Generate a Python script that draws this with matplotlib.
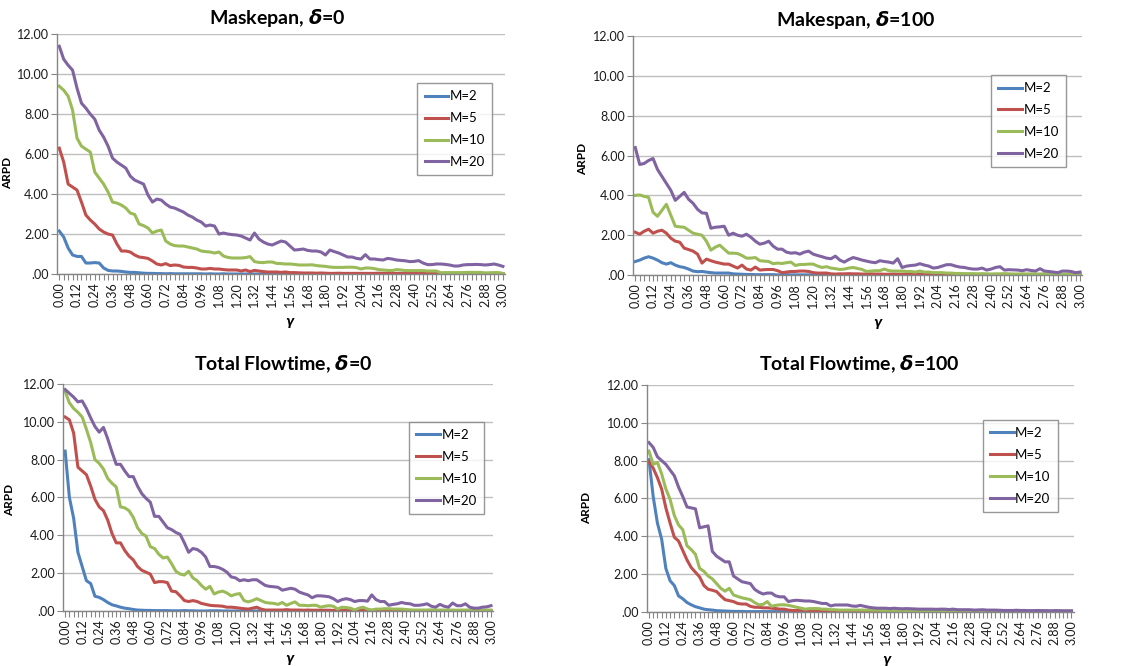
import numpy as np
import matplotlib
matplotlib.use('Agg')
import matplotlib.pyplot as plt

plt.rcParams['font.family'] = ['Lato', 'DejaVu Sans']
plt.rcParams['mathtext.fontset'] = 'dejavusans'

# gamma categories 0.00 .. 3.00, step 0.03
gamma = np.round(np.arange(101) * 0.03, 2)
series_names = ['M=2', 'M=5', 'M=10', 'M=20']
colors = ['#4F81BD', '#C0504D', '#9BBB59', '#8064A2']

# ---- Maskepan, delta=0 ----
ms0_m2 = [2.15, 1.85, 1.3, 0.95, 0.88, 0.88, 0.55, 0.55, 0.57, 0.55,
          0.3, 0.18, 0.15, 0.15, 0.13, 0.1, 0.08, 0.08, 0.06, 0.04,
          0.03, 0.03, 0.02, 0.02, 0.01, 0.02, 0.01, 0.01, 0.01, 0.01,
          0.01, 0.01, 0.01, 0.0, 0.01, 0.0, 0.0, 0.01, 0.0, 0.0,
          0.0, 0.0, 0.0, 0.0, 0.0, 0.0, 0.0, 0.0, 0.0, 0.0,
          0.0, 0.0, 0.0, 0.0, 0.0, 0.0, 0.0, 0.0, 0.0, 0.0,
          0.0, 0.0, 0.0, 0.0, 0.0, 0.0, 0.0, 0.0, 0.0, 0.0,
          0.0, 0.0, 0.0, 0.0, 0.0, 0.0, 0.0, 0.0, 0.0, 0.0,
          0.0, 0.0, 0.0, 0.0, 0.0, 0.0, 0.0, 0.0, 0.0, 0.0,
          0.0, 0.0, 0.0, 0.0, 0.0, 0.0, 0.0, 0.0, 0.0, 0.0, 0.0]
ms0_m5 = [6.3, 5.6, 4.5, 4.35, 4.2, 3.6, 2.95, 2.7, 2.5, 2.25,
          2.1, 2.0, 1.95, 1.5, 1.15, 1.15, 1.1, 0.95, 0.85, 0.82,
          0.78, 0.65, 0.5, 0.45, 0.52, 0.42, 0.45, 0.43, 0.35, 0.33,
          0.33, 0.3, 0.25, 0.25, 0.28, 0.25, 0.25, 0.22, 0.2, 0.2,
          0.2, 0.15, 0.2, 0.12, 0.18, 0.15, 0.12, 0.1, 0.1, 0.1,
          0.08, 0.1, 0.07, 0.07, 0.06, 0.05, 0.05, 0.05, 0.04, 0.05,
          0.04, 0.03, 0.03, 0.04, 0.03, 0.03, 0.03, 0.03, 0.03, 0.03,
          0.03, 0.03, 0.04, 0.03, 0.03, 0.03, 0.03, 0.03, 0.04, 0.05,
          0.05, 0.07, 0.05, 0.03, 0.03, 0.03, 0.03, 0.03, 0.03, 0.03,
          0.03, 0.03, 0.03, 0.03, 0.03, 0.03, 0.03, 0.03, 0.03, 0.03, 0.02]
ms0_m10 = [9.4, 9.2, 8.9, 8.2, 6.8, 6.4, 6.25, 6.1, 5.1, 4.8,
           4.5, 4.1, 3.6, 3.55, 3.45, 3.3, 3.05, 2.98, 2.5, 2.42,
           2.3, 2.05, 2.15, 2.2, 1.65, 1.5, 1.42, 1.4, 1.4, 1.35,
           1.3, 1.25, 1.15, 1.12, 1.1, 1.05, 1.1, 0.9, 0.83, 0.8,
           0.8, 0.8, 0.82, 0.87, 0.62, 0.58, 0.57, 0.6, 0.6, 0.53,
           0.52, 0.5, 0.5, 0.48, 0.45, 0.45, 0.45, 0.46, 0.42, 0.4,
           0.38, 0.35, 0.33, 0.33, 0.33, 0.34, 0.34, 0.32, 0.25, 0.3,
           0.3, 0.27, 0.22, 0.2, 0.18, 0.17, 0.22, 0.2, 0.17, 0.17,
           0.17, 0.17, 0.17, 0.15, 0.15, 0.15, 0.06, 0.07, 0.07, 0.07,
           0.07, 0.07, 0.08, 0.08, 0.08, 0.08, 0.05, 0.06, 0.07, 0.07, 0.03]
ms0_m20 = [11.4, 10.75, 10.45, 10.2, 9.3, 8.55, 8.3, 8.0, 7.75, 7.2,
           6.85, 6.4, 5.8, 5.6, 5.45, 5.3, 4.9, 4.7, 4.6, 4.5,
           3.95, 3.6, 3.75, 3.7, 3.5, 3.35, 3.3, 3.2, 3.1, 2.95,
           2.85, 2.7, 2.6, 2.4, 2.45, 2.4, 2.0, 2.05, 2.0, 1.97,
           1.95, 1.9, 1.8, 1.7, 2.05, 1.75, 1.6, 1.5, 1.45, 1.55,
           1.65, 1.6, 1.4, 1.2, 1.22, 1.25, 1.18, 1.15, 1.15, 1.1,
           0.95, 1.2, 1.12, 1.05, 0.95, 0.85, 0.85, 0.78, 0.75, 0.97,
           0.75, 0.75, 0.72, 0.7, 0.78, 0.75, 0.7, 0.68, 0.66, 0.62,
           0.63, 0.67, 0.55, 0.47, 0.47, 0.5, 0.5, 0.48, 0.45, 0.4,
           0.4, 0.45, 0.47, 0.47, 0.48, 0.47, 0.45, 0.47, 0.5, 0.45, 0.38]

# ---- Makespan, delta=100 ----
ms100_m2 = [0.68, 0.75, 0.85, 0.92, 0.85, 0.75, 0.62, 0.55, 0.62, 0.5,
            0.42, 0.38, 0.3, 0.2, 0.17, 0.18, 0.15, 0.12, 0.1, 0.1,
            0.1, 0.1, 0.06, 0.05, 0.04, 0.03, 0.03, 0.02, 0.02, 0.02,
            0.02, 0.02, 0.01, 0.01, 0.02, 0.01, 0.01, 0.01, 0.01, 0.01,
            0.01, 0.01, 0.01, 0.01, 0.0, 0.01, 0.0, 0.0, 0.0, 0.0,
            0.0, 0.0, 0.0, 0.0, 0.0, 0.0, 0.0, 0.0, 0.0, 0.0,
            0.0, 0.0, 0.0, 0.0, 0.0, 0.0, 0.0, 0.0, 0.0, 0.0,
            0.0, 0.0, 0.0, 0.0, 0.0, 0.0, 0.0, 0.0, 0.0, 0.0,
            0.0, 0.0, 0.0, 0.0, 0.0, 0.0, 0.0, 0.0, 0.0, 0.0,
            0.0, 0.0, 0.0, 0.0, 0.0, 0.0, 0.0, 0.0, 0.0, 0.0, 0.0]
ms100_m5 = [2.15, 2.05, 2.2, 2.3, 2.1, 2.2, 2.25, 2.1, 1.85, 1.7,
            1.65, 1.35, 1.28, 1.2, 1.05, 0.6, 0.8, 0.72, 0.65, 0.6,
            0.55, 0.55, 0.45, 0.35, 0.5, 0.3, 0.25, 0.4, 0.25, 0.27,
            0.28, 0.28, 0.22, 0.12, 0.15, 0.18, 0.18, 0.2, 0.2, 0.18,
            0.12, 0.1, 0.1, 0.1, 0.06, 0.05, 0.06, 0.06, 0.07, 0.06,
            0.06, 0.05, 0.05, 0.06, 0.05, 0.05, 0.04, 0.04, 0.05, 0.04,
            0.04, 0.05, 0.1, 0.04, 0.04, 0.03, 0.04, 0.03, 0.03, 0.04,
            0.03, 0.03, 0.03, 0.03, 0.04, 0.03, 0.03, 0.03, 0.03, 0.03,
            0.03, 0.03, 0.03, 0.03, 0.03, 0.03, 0.03, 0.03, 0.03, 0.03,
            0.03, 0.03, 0.03, 0.03, 0.03, 0.03, 0.03, 0.03, 0.03, 0.03, 0.03]
ms100_m10 = [4.0, 4.02, 3.95, 3.9, 3.15, 2.95, 3.25, 3.55, 3.0, 2.45,
             2.42, 2.4, 2.25, 2.1, 2.05, 2.0, 1.7, 1.25, 1.4, 1.5,
             1.3, 1.1, 1.1, 1.08, 0.98, 0.85, 0.85, 0.88, 0.72, 0.7,
             0.68, 0.57, 0.6, 0.58, 0.62, 0.65, 0.48, 0.53, 0.53, 0.55,
             0.55, 0.45, 0.38, 0.42, 0.35, 0.32, 0.28, 0.3, 0.35, 0.38,
             0.33, 0.28, 0.18, 0.2, 0.22, 0.22, 0.3, 0.22, 0.2, 0.2,
             0.2, 0.18, 0.18, 0.15, 0.2, 0.15, 0.15, 0.12, 0.12, 0.12,
             0.1, 0.1, 0.08, 0.08, 0.07, 0.07, 0.07, 0.06, 0.07, 0.06,
             0.05, 0.06, 0.06, 0.07, 0.06, 0.05, 0.05, 0.06, 0.05, 0.06,
             0.05, 0.05, 0.06, 0.05, 0.05, 0.05, 0.04, 0.05, 0.05, 0.05, 0.05]
ms100_m20 = [6.4, 5.55, 5.6, 5.75, 5.85, 5.3, 4.95, 4.6, 4.25, 3.75,
             3.95, 4.15, 3.8, 3.6, 3.3, 3.12, 3.1, 2.35, 2.4, 2.42,
             2.45, 2.0, 2.1, 2.0, 1.95, 2.05, 1.9, 1.7, 1.55, 1.6,
             1.7, 1.45, 1.3, 1.3, 1.15, 1.1, 1.12, 1.05, 1.15, 1.2,
             1.05, 0.98, 0.92, 0.85, 0.82, 0.95, 0.75, 0.65, 0.78, 0.88,
             0.82, 0.75, 0.7, 0.65, 0.62, 0.72, 0.68, 0.65, 0.6, 0.82,
             0.38, 0.45, 0.48, 0.5, 0.57, 0.5, 0.45, 0.35, 0.38, 0.45,
             0.52, 0.52, 0.45, 0.4, 0.38, 0.33, 0.3, 0.3, 0.35, 0.25,
             0.3, 0.38, 0.42, 0.25, 0.27, 0.26, 0.25, 0.22, 0.27, 0.23,
             0.2, 0.32, 0.2, 0.18, 0.15, 0.12, 0.2, 0.2, 0.18, 0.12, 0.15]

# ---- Total Flowtime, delta=0 ----
ft0_m2 = [8.45, 6.0, 4.9, 3.1, 2.35, 1.6, 1.45, 0.78, 0.72, 0.6,
          0.45, 0.33, 0.27, 0.2, 0.15, 0.12, 0.08, 0.05, 0.04, 0.03,
          0.03, 0.02, 0.02, 0.02, 0.02, 0.01, 0.01, 0.01, 0.02, 0.01,
          0.01, 0.0, 0.0, 0.0, 0.01, 0.01, 0.01, 0.0, 0.0, 0.0,
          0.0, 0.0, 0.0, 0.0, 0.0, 0.0, 0.0, 0.0, 0.0, 0.0,
          0.0, 0.0, 0.0, 0.0, 0.0, 0.0, 0.0, 0.0, 0.0, 0.0,
          0.0, 0.0, 0.0, 0.0, 0.0, 0.0, 0.0, 0.0, 0.0, 0.0,
          0.0, 0.0, 0.0, 0.0, 0.0, 0.0, 0.0, 0.0, 0.0, 0.0,
          0.0, 0.0, 0.0, 0.0, 0.0, 0.0, 0.0, 0.0, 0.0, 0.0,
          0.0, 0.0, 0.0, 0.0, 0.0, 0.0, 0.0, 0.0, 0.0, 0.0, 0.0]
ft0_m5 = [10.25, 10.1, 9.4, 7.6, 7.4, 7.2, 6.6, 5.9, 5.5, 5.3,
          4.8, 4.1, 3.6, 3.6, 3.2, 2.9, 2.7, 2.35, 2.15, 2.05,
          1.95, 1.5, 1.55, 1.55, 1.5, 1.05, 1.02, 0.8, 0.55, 0.5,
          0.55, 0.5, 0.4, 0.35, 0.3, 0.28, 0.27, 0.25, 0.2, 0.2,
          0.18, 0.15, 0.12, 0.1, 0.15, 0.2, 0.1, 0.05, 0.05, 0.05,
          0.05, 0.05, 0.07, 0.05, 0.05, 0.05, 0.04, 0.05, 0.04, 0.04,
          0.04, 0.04, 0.04, 0.03, 0.04, 0.03, 0.04, 0.03, 0.03, 0.03,
          0.03, 0.03, 0.03, 0.03, 0.03, 0.03, 0.02, 0.02, 0.02, 0.02,
          0.02, 0.02, 0.02, 0.02, 0.02, 0.02, 0.02, 0.02, 0.02, 0.02,
          0.02, 0.02, 0.02, 0.02, 0.02, 0.02, 0.02, 0.02, 0.02, 0.02, 0.02]
ft0_m10 = [11.6, 11.0, 10.7, 10.5, 10.25, 9.6, 8.9, 8.0, 7.8, 7.5,
           7.0, 6.75, 6.55, 5.5, 5.45, 5.3, 4.95, 4.4, 4.1, 3.95,
           3.4, 3.3, 3.0, 2.8, 2.85, 2.5, 2.1, 1.95, 1.9, 2.1,
           1.75, 1.6, 1.35, 1.15, 1.3, 0.9, 1.0, 1.05, 0.95, 0.8,
           0.88, 0.92, 0.55, 0.48, 0.55, 0.65, 0.55, 0.45, 0.42, 0.4,
           0.35, 0.45, 0.3, 0.4, 0.48, 0.3, 0.3, 0.28, 0.3, 0.3,
           0.2, 0.25, 0.28, 0.25, 0.1, 0.2, 0.18, 0.15, 0.05, 0.15,
           0.2, 0.1, 0.05, 0.1, 0.1, 0.12, 0.12, 0.1, 0.1, 0.1,
           0.08, 0.06, 0.05, 0.05, 0.05, 0.05, 0.06, 0.05, 0.05, 0.05,
           0.05, 0.05, 0.04, 0.05, 0.05, 0.05, 0.05, 0.05, 0.05, 0.05, 0.05]
ft0_m20 = [11.7, 11.5, 11.3, 11.05, 11.1, 10.7, 10.2, 9.75, 9.45, 9.7,
           9.1, 8.4, 7.75, 7.75, 7.4, 7.1, 7.1, 6.6, 6.2, 5.95,
           5.75, 5.0, 5.0, 4.7, 4.4, 4.3, 4.15, 4.05, 3.6, 3.1,
           3.3, 3.25, 3.1, 2.85, 2.35, 2.35, 2.3, 2.2, 2.05, 1.8,
           1.75, 1.6, 1.65, 1.6, 1.65, 1.65, 1.5, 1.35, 1.3, 1.28,
           1.25, 1.1, 1.15, 1.2, 1.15, 1.0, 0.92, 0.85, 0.7, 0.8,
           0.8, 0.78, 0.75, 0.65, 0.5, 0.6, 0.65, 0.6, 0.5, 0.55,
           0.55, 0.52, 0.85, 0.6, 0.5, 0.5, 0.3, 0.35, 0.38, 0.45,
           0.4, 0.38, 0.3, 0.3, 0.33, 0.38, 0.25, 0.2, 0.35, 0.25,
           0.2, 0.42, 0.28, 0.28, 0.38, 0.2, 0.15, 0.15, 0.2, 0.22, 0.28]

# ---- Total Flowtime, delta=100 ----
ft100_m2 = [8.05, 6.1, 4.7, 3.85, 2.3, 1.65, 1.4, 0.85, 0.7, 0.5,
            0.38, 0.28, 0.22, 0.15, 0.12, 0.1, 0.07, 0.06, 0.05, 0.04,
            0.03, 0.03, 0.03, 0.02, 0.02, 0.02, 0.02, 0.02, 0.02, 0.02,
            0.02, 0.02, 0.02, 0.02, 0.02, 0.01, 0.02, 0.01, 0.01, 0.01,
            0.01, 0.01, 0.01, 0.01, 0.01, 0.01, 0.01, 0.01, 0.01, 0.01,
            0.01, 0.01, 0.01, 0.01, 0.01, 0.01, 0.01, 0.01, 0.01, 0.01,
            0.01, 0.01, 0.01, 0.01, 0.01, 0.01, 0.01, 0.01, 0.01, 0.01,
            0.01, 0.01, 0.01, 0.01, 0.01, 0.01, 0.01, 0.01, 0.01, 0.01,
            0.01, 0.01, 0.01, 0.01, 0.01, 0.01, 0.01, 0.01, 0.01, 0.01,
            0.01, 0.01, 0.01, 0.01, 0.01, 0.01, 0.01, 0.01, 0.01, 0.01, 0.01]
ft100_m5 = [7.95, 7.6, 7.1, 6.5, 5.5, 4.7, 3.95, 3.75, 3.25, 2.75,
            2.35, 2.1, 1.85, 1.4, 1.2, 1.15, 1.08, 0.85, 0.65, 0.6,
            0.55, 0.45, 0.42, 0.42, 0.3, 0.25, 0.25, 0.22, 0.22, 0.2,
            0.18, 0.15, 0.15, 0.1, 0.08, 0.08, 0.1, 0.09, 0.08, 0.07,
            0.07, 0.07, 0.06, 0.06, 0.06, 0.06, 0.06, 0.05, 0.06, 0.05,
            0.05, 0.05, 0.05, 0.05, 0.05, 0.05, 0.04, 0.05, 0.04, 0.04,
            0.04, 0.04, 0.04, 0.04, 0.04, 0.04, 0.04, 0.04, 0.04, 0.04,
            0.04, 0.03, 0.03, 0.03, 0.03, 0.03, 0.03, 0.03, 0.03, 0.03,
            0.03, 0.03, 0.03, 0.03, 0.03, 0.03, 0.03, 0.03, 0.03, 0.03,
            0.03, 0.03, 0.03, 0.03, 0.03, 0.03, 0.03, 0.03, 0.03, 0.03, 0.03]
ft100_m10 = [8.5, 7.8, 7.9, 7.3, 6.5, 5.95, 5.1, 4.6, 4.35, 3.5,
             3.3, 3.05, 2.3, 2.15, 1.9, 1.75, 1.5, 1.25, 1.1, 1.25,
             0.9, 0.82, 0.75, 0.7, 0.65, 0.5, 0.38, 0.4, 0.55, 0.3,
             0.35, 0.38, 0.38, 0.35, 0.3, 0.25, 0.2, 0.15, 0.18, 0.18,
             0.18, 0.15, 0.15, 0.12, 0.12, 0.1, 0.1, 0.1, 0.1, 0.1,
             0.1, 0.1, 0.1, 0.09, 0.1, 0.08, 0.08, 0.08, 0.08, 0.08,
             0.08, 0.08, 0.08, 0.07, 0.07, 0.07, 0.07, 0.07, 0.07, 0.07,
             0.07, 0.06, 0.06, 0.06, 0.06, 0.06, 0.06, 0.06, 0.06, 0.06,
             0.06, 0.05, 0.05, 0.05, 0.05, 0.05, 0.05, 0.05, 0.05, 0.05,
             0.05, 0.05, 0.05, 0.05, 0.05, 0.05, 0.05, 0.05, 0.05, 0.05, 0.05]
ft100_m20 = [8.95, 8.7, 8.2, 8.0, 7.8, 7.5, 7.2, 6.6, 6.1, 5.55,
             5.5, 5.45, 4.45, 4.5, 4.55, 3.2, 2.95, 2.8, 2.65, 2.65,
             1.9, 1.75, 1.6, 1.55, 1.5, 1.2, 1.05, 0.95, 1.0, 1.0,
             0.85, 0.8, 0.8, 0.55, 0.6, 0.62, 0.6, 0.58, 0.58, 0.55,
             0.5, 0.45, 0.45, 0.32, 0.37, 0.37, 0.37, 0.37, 0.32, 0.3,
             0.35, 0.3, 0.25, 0.22, 0.2, 0.2, 0.2, 0.18, 0.2, 0.18,
             0.17, 0.18, 0.17, 0.16, 0.15, 0.15, 0.15, 0.15, 0.14, 0.15,
             0.15, 0.13, 0.15, 0.12, 0.12, 0.12, 0.12, 0.1, 0.11, 0.12,
             0.1, 0.1, 0.1, 0.09, 0.08, 0.08, 0.08, 0.09, 0.08, 0.08,
             0.07, 0.07, 0.08, 0.07, 0.07, 0.06, 0.07, 0.07, 0.06, 0.06, 0.06]

# title, series, axes rect, legend anchor, ylabel pos, xlabel pos, title pos
panels = [
    (r'Maskepan, $\mathbfit{\delta}$=0', [ms0_m2, ms0_m5, ms0_m10, ms0_m20],
     [0.0508, 0.5886, 0.399, 0.360], (0.804, 0.796), (-0.098, 0.42), (0.52, -0.175), (0.2467, 0.973)),
    (r'Makespan, $\mathbfit{\delta}$=100', [ms100_m2, ms100_m5, ms100_m10, ms100_m20],
     [0.5637, 0.587, 0.400, 0.359], (0.797, 0.837), (-0.10, 0.485), (0.546, -0.175), (0.762, 0.970)),
    (r'Total Flowtime, $\mathbfit{\delta}$=0', [ft0_m2, ft0_m5, ft0_m10, ft0_m20],
     [0.0561, 0.0826, 0.383, 0.341], (0.805, 0.833), (-0.112, 0.49), (0.528, -0.185), (0.252, 0.4535)),
    (r'Total Flowtime, $\mathbfit{\delta}$=100', [ft100_m2, ft100_m5, ft100_m10, ft100_m20],
     [0.576, 0.0811, 0.380, 0.341], (0.787, 0.846), (-0.129, 0.46), (0.564, -0.185), (0.765, 0.4535)),
]

fig = plt.figure(figsize=(11.23, 6.66), dpi=100)

for title, data, rect, leg_pos, ylab_pos, xlab_pos, title_pos in panels:
    ax = fig.add_axes(rect)
    for vals, name, c in zip(data, series_names, colors):
        assert len(vals) == len(gamma), name
        ax.plot(gamma, vals, color=c, lw=2.2, label=name, solid_joinstyle='round')

    ax.set_xlim(-0.015, 3.015)
    ax.set_ylim(0, 12)
    yt = list(range(0, 13, 2))
    ax.set_yticks(yt)
    ax.set_yticklabels(['.00' if v == 0 else '%.2f' % v for v in yt])
    ax.set_xticks(gamma[::4])
    ax.set_xticklabels(['%.2f' % g for g in gamma[::4]], rotation=90)
    ax.set_xticks(gamma, minor=True)
    ax.tick_params(axis='both', which='both', labelsize=9, colors='#868686',
                   labelcolor='#1a1a1a', length=4, width=0.8, pad=2)
    ax.grid(axis='y', color='#BFBFBF', lw=1)
    ax.set_axisbelow(True)
    for s in ['top', 'right']:
        ax.spines[s].set_visible(False)
    for s in ['left', 'bottom']:
        ax.spines[s].set_color('#868686')
        ax.spines[s].set_linewidth(1)

    ax.set_ylabel('ARPD', fontsize=8.5, fontweight='bold')
    ax.yaxis.set_label_coords(*ylab_pos)
    ax.set_xlabel(r'$\mathbfit{\gamma}$', fontsize=8.5)
    ax.xaxis.set_label_coords(*xlab_pos)

    fig.text(title_pos[0], title_pos[1], title, ha='center', va='center',
             fontsize=14, fontweight='bold')

    lg = ax.legend(loc='upper left', bbox_to_anchor=leg_pos, borderaxespad=0,
                   fontsize=9.5, frameon=True, fancybox=False, handlelength=1.8,
                   handletextpad=0.1, labelspacing=0.75, borderpad=0.55)
    lg.get_frame().set_edgecolor('#7F7F7F')
    lg.get_frame().set_linewidth(1)

fig.savefig('out.png', dpi=100)
